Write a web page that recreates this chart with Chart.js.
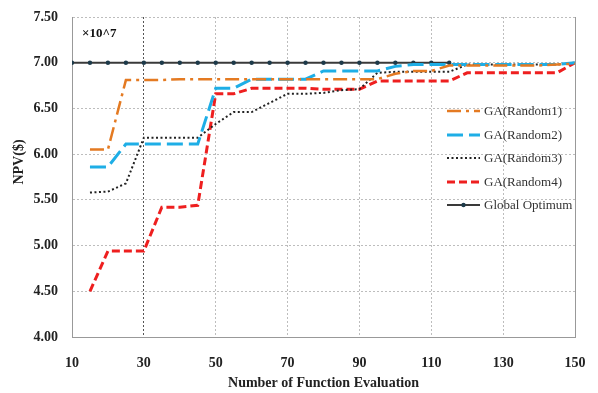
<!DOCTYPE html>
<html>
<head>
<meta charset="utf-8">
<script src="https://cdn.jsdelivr.net/npm/chart.js@4.4.0/dist/chart.umd.min.js"></script>
<style>
    html, body { margin: 0; padding: 0; background: #fff; }
    #wrap { width: 598px; height: 393px; }
</style>
</head>
<body>
<div id="wrap"><canvas id="npv-chart" width="598" height="393"></canvas></div>
<script>
/* =============================================
   Data
   ============================================= */

const gaEvals = [15, 20, 25, 30, 35, 40, 45, 50, 55, 60, 65, 70, 75, 80,
    85, 90, 95, 100, 105, 110, 115, 120, 125, 130, 135, 140, 145, 150];

const random1 = [6.05, 6.05, 6.81, 6.81, 6.81, 6.82, 6.82, 6.82, 6.82, 6.82, 6.82, 6.82, 6.82, 6.82,
    6.82, 6.82, 6.82, 6.88, 6.91, 6.91, 6.97, 6.97, 6.97, 6.97, 6.97, 6.97, 6.98, 6.99];
const random2 = [5.86, 5.86, 6.11, 6.11, 6.11, 6.11, 6.11, 6.72, 6.72, 6.82, 6.82, 6.82, 6.82, 6.91,
    6.91, 6.91, 6.91, 6.96, 6.98, 6.98, 6.98, 6.98, 6.98, 6.98, 6.98, 6.98, 6.98, 7.00];
const random3 = [5.58, 5.59, 5.68, 6.18, 6.18, 6.18, 6.18, 6.33, 6.46, 6.46, 6.56, 6.66, 6.66, 6.67,
    6.70, 6.71, 6.89, 6.90, 6.90, 6.90, 6.90, 6.98, 6.98, 6.98, 6.98, 6.98, 6.98, 7.00];
const random4 = [4.50, 4.94, 4.94, 4.94, 5.42, 5.42, 5.44, 6.66, 6.66, 6.72, 6.72, 6.72, 6.72, 6.71,
    6.71, 6.71, 6.80, 6.80, 6.80, 6.80, 6.80, 6.89, 6.89, 6.89, 6.89, 6.89, 6.89, 7.00];

const optimumEvals = [10, 15, 20, 25, 30, 35, 40, 45, 50, 55, 60, 65, 70, 75,
    80, 85, 90, 95, 100, 105, 110, 115];
const optimumNpv = optimumEvals.map(() => 7.0);

const xTicks = [10, 30, 50, 70, 90, 110, 130, 150];
const yTicks = [4.0, 4.5, 5.0, 5.5, 6.0, 6.5, 7.0, 7.5];

const SERIF = '"Liberation Serif", "Times New Roman", serif';
const HIDDEN = 'rgba(0,0,0,0)';

function toPoints(xs, ys) {
    return xs.map((x, i) => ({ x: x, y: ys[i] }));
}

/* =============================================
   Plugins: legend inside the plot, scale note, frame, y title
   ============================================= */

const insideLegend = {
    id: 'insideLegend',
    afterDraw(chart) {
        const ctx = chart.ctx;
        const x0 = 447, x1 = 480, rows = [111, 135, 158, 182, 205];
        ctx.save();
        chart.data.datasets.forEach((ds, i) => {
            const y = rows[i];
            ctx.strokeStyle = ds.borderColor;
            ctx.lineWidth = ds.borderWidth;
            ctx.setLineDash(ds.borderDash || []);
            ctx.beginPath();
            ctx.moveTo(x0, y);
            ctx.lineTo(x1, y);
            ctx.stroke();
            if (ds.pointRadius) {
                ctx.setLineDash([]);
                ctx.fillStyle = ds.pointBackgroundColor;
                ctx.beginPath();
                ctx.arc((x0 + x1) / 2, y, ds.pointRadius, 0, Math.PI * 2);
                ctx.fill();
            }
            ctx.fillStyle = '#333';
            ctx.font = '13px ' + SERIF;
            ctx.textBaseline = 'middle';
            ctx.fillText(ds.label, 484, y + 1);
        });
        ctx.restore();
    }
};

const scaleNote = {
    id: 'scaleNote',
    afterDraw(chart) {
        const ctx = chart.ctx;
        ctx.save();
        ctx.fillStyle = '#111';
        ctx.font = 'bold 13px ' + SERIF;
        ctx.textBaseline = 'middle';
        ctx.fillText('\u00d710^7', 82, 34);

        // y axis title sits a little above the middle of the plot
        ctx.translate(19, 162);
        ctx.rotate(-Math.PI / 2);
        ctx.fillStyle = '#222';
        ctx.font = 'bold 14px ' + SERIF;
        ctx.textAlign = 'center';
        ctx.fillText('NPV($)', 0, 0);
        ctx.restore();
    }
};

const plotFrame = {
    id: 'plotFrame',
    beforeDatasetsDraw(chart) {
        const a = chart.chartArea;
        const ctx = chart.ctx;
        ctx.save();
        ctx.strokeStyle = '#999';
        ctx.lineWidth = 1;
        ctx.beginPath();
        ctx.moveTo(a.right + 0.5, a.top);
        ctx.lineTo(a.right + 0.5, a.bottom);
        ctx.stroke();
        ctx.restore();
    }
};

/* =============================================
   Chart
   ============================================= */

const ctx = document.getElementById('npv-chart').getContext('2d');

new Chart(ctx, {
    type: 'line',
    data: {
        datasets: [
            {
                label: 'GA(Random1)',
                data: toPoints(gaEvals, random1),
                borderColor: '#e47a22',
                borderWidth: 2.5,
                borderDash: [14, 5, 3, 5],
                pointRadius: 0
            },
            {
                label: 'GA(Random2)',
                data: toPoints(gaEvals, random2),
                borderColor: '#1eaee6',
                borderWidth: 3,
                borderDash: [16, 6],
                pointRadius: 0
            },
            {
                label: 'GA(Random3)',
                data: toPoints(gaEvals, random3),
                borderColor: '#222',
                borderWidth: 2,
                borderDash: [2, 2.5],
                pointRadius: 0
            },
            {
                label: 'GA(Random4)',
                data: toPoints(gaEvals, random4),
                borderColor: '#ee1f1f',
                borderWidth: 3,
                borderDash: [8, 4],
                pointRadius: 0
            },
            {
                label: 'Global Optimum',
                data: toPoints(optimumEvals, optimumNpv),
                borderColor: '#3a3a3a',
                borderWidth: 2,
                pointRadius: 2.2,
                pointBackgroundColor: '#1d3a4a',
                pointBorderWidth: 0
            }
        ]
    },
    options: {
        responsive: false,
        animation: false,
        layout: { padding: { top: 17, right: 23, left: 0, bottom: 0 } },
        elements: { line: { tension: 0, fill: false } },
        plugins: {
            legend: { display: false },
            tooltip: { enabled: false }
        },
        scales: {
            x: {
                type: 'linear',
                min: 10,
                max: 150,
                afterBuildTicks: scale => { scale.ticks = xTicks.map(v => ({ value: v })); },
                afterFit: scale => { scale.height = 56; },
                grid: {
                    tickLength: 18,
                    tickColor: HIDDEN,
                    color: c => (c.tick && c.tick.value === 30 ? '#555' : '#bdbdbd')
                },
                border: { color: '#999', dash: [2, 2] },
                ticks: {
                    padding: 0,
                    color: '#222',
                    font: { family: SERIF, size: 14, weight: 'bold' }
                },
                title: {
                    display: true,
                    text: 'Number of Function Evaluation',
                    color: '#222',
                    padding: { top: 0, bottom: 1 },
                    font: { family: SERIF, size: 14, weight: 'bold' }
                }
            },
            y: {
                min: 4.0,
                max: 7.5,
                afterBuildTicks: scale => { scale.ticks = yTicks.map(v => ({ value: v })); },
                afterFit: scale => { scale.width = 72; },
                grid: { tickLength: 14, tickColor: HIDDEN, color: '#bdbdbd' },
                border: { color: '#999', dash: [2, 2] },
                ticks: {
                    padding: 0,
                    color: '#222',
                    callback: v => v.toFixed(2),
                    font: { family: SERIF, size: 14, weight: 'bold' }
                },
                title: { display: false }
            }
        }
    },
    plugins: [plotFrame, insideLegend, scaleNote]
});
</script>
</body>
</html>
